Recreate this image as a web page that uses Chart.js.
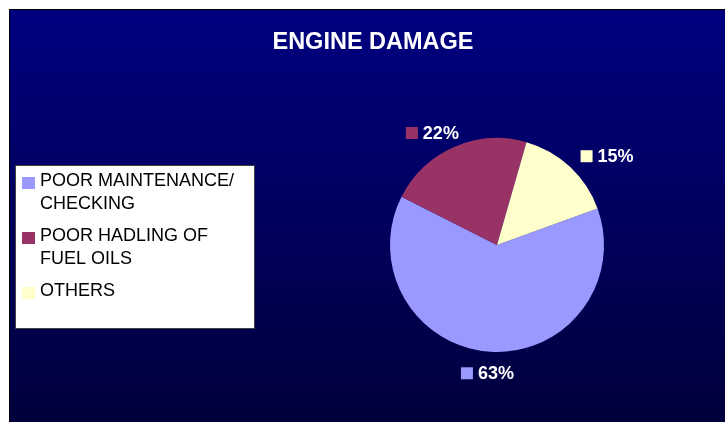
<!DOCTYPE html>
<html>
<head>
<meta charset="utf-8">
<title>Engine Damage</title>
<script src="https://cdn.jsdelivr.net/npm/chart.js@4.4.0/dist/chart.umd.min.js"></script>
<style>
    html, body { margin: 0; padding: 0; background: #fff; }
    canvas { display: block; }
</style>
</head>
<body>
<canvas id="engineDamageChart" width="725" height="422"></canvas>
<script>
// Engine damage pie

const chartTitle = 'ENGINE DAMAGE';

const causeLabels = [
    ['POOR MAINTENANCE/', 'CHECKING'],
    ['POOR HADLING OF', 'FUEL OILS'],
    ['OTHERS'],
];

const damageShares = [63, 22, 15];

const sliceColors = ['#9999FF', '#993366', '#FFFFCC'];

const fontFamily = '"Liberation Sans", Arial, sans-serif';

// dark panel, title and legend box
const panelPlugin = {
    id: 'panel',
    beforeDraw(chart) {
        const ctx = chart.ctx;
        const w = chart.width, h = chart.height;
        ctx.save();
        ctx.fillStyle = '#ffffff';
        ctx.fillRect(0, 0, w, h);
        const grad = ctx.createLinearGradient(0, 9, 0, h);
        grad.addColorStop(0, '#000080');
        grad.addColorStop(1, '#00003c');
        ctx.fillStyle = grad;
        ctx.fillRect(9, 9, w - 9, h - 9);
        ctx.fillStyle = '#000000';
        ctx.fillRect(9, 9, w - 9, 1);
        ctx.fillRect(9, 9, 1, h - 9);

        ctx.fillStyle = '#ffffff';
        ctx.font = 'bold 23.5px ' + fontFamily;
        ctx.textAlign = 'center';
        ctx.textBaseline = 'alphabetic';
        ctx.fillText(chartTitle, 373, 49);
        ctx.restore();
    },
    afterDraw(chart) {
        const ctx = chart.ctx;
        const labels = chart.data.labels;
        const colors = chart.data.datasets[0].backgroundColor;
        ctx.save();
        ctx.fillStyle = '#ffffff';
        ctx.fillRect(15, 165, 239, 163);
        ctx.strokeStyle = '#404040';
        ctx.lineWidth = 1;
        ctx.strokeRect(15.5, 165.5, 239, 163);

        ctx.font = '18px ' + fontFamily;
        ctx.textAlign = 'left';
        ctx.textBaseline = 'alphabetic';
        let y = 186;
        labels.forEach((lines, i) => {
            ctx.fillStyle = colors[i];
            ctx.fillRect(22, y - 9, 13, 12);
            ctx.fillStyle = '#000000';
            lines.forEach((line, j) => {
                ctx.fillText(line, 40, y + j * 23);
            });
            y += lines.length * 23 + 9;
        });
        ctx.restore();
    }
};

// percentage labels outside each slice
const percentPlugin = {
    id: 'percentLabels',
    afterDatasetsDraw(chart) {
        const ctx = chart.ctx;
        const meta = chart.getDatasetMeta(0);
        const values = chart.data.datasets[0].data;
        const colors = chart.data.datasets[0].backgroundColor;
        const total = values.reduce((a, b) => a + b, 0);
        ctx.save();
        ctx.font = 'bold 18px ' + fontFamily;
        ctx.textBaseline = 'middle';
        ctx.textAlign = 'left';
        meta.data.forEach((arc, i) => {
            const mid = (arc.startAngle + arc.endAngle) / 2;
            const ux = Math.cos(mid), uy = Math.sin(mid);
            const text = Math.round(values[i] / total * 100) + '%';
            const boxW = 17 + ctx.measureText(text).width;
            const boxH = 13;
            const d = arc.outerRadius + 12;
            const cx = arc.x + ux * d + ux * boxW * 0.8;
            const cy = arc.y + uy * d + uy * boxH / 2 + 3;
            const left = cx - boxW / 2;
            ctx.fillStyle = colors[i];
            ctx.fillRect(left, cy - 6, 12, 12);
            ctx.fillStyle = '#ffffff';
            ctx.fillText(text, left + 17, cy + 1);
        });
        ctx.restore();
    }
};

const damageData = {
    labels: causeLabels,
    datasets: [{
        data: damageShares,
        backgroundColor: sliceColors,
        borderWidth: 0,
    }]
};

const damageConfig = {
    type: 'pie',
    data: damageData,
    options: {
        responsive: false,
        animation: false,
        devicePixelRatio: 1,
        rotation: 70,
        layout: {
            padding: { left: 390, right: 121, top: 138, bottom: 70 }
        },
        plugins: {
            legend: { display: false },
            title: { display: false },
            tooltip: { enabled: false }
        }
    },
    plugins: [panelPlugin, percentPlugin]
};

const damageChart = new Chart(
    document.getElementById('engineDamageChart'),
    damageConfig
);
</script>
</body>
</html>
